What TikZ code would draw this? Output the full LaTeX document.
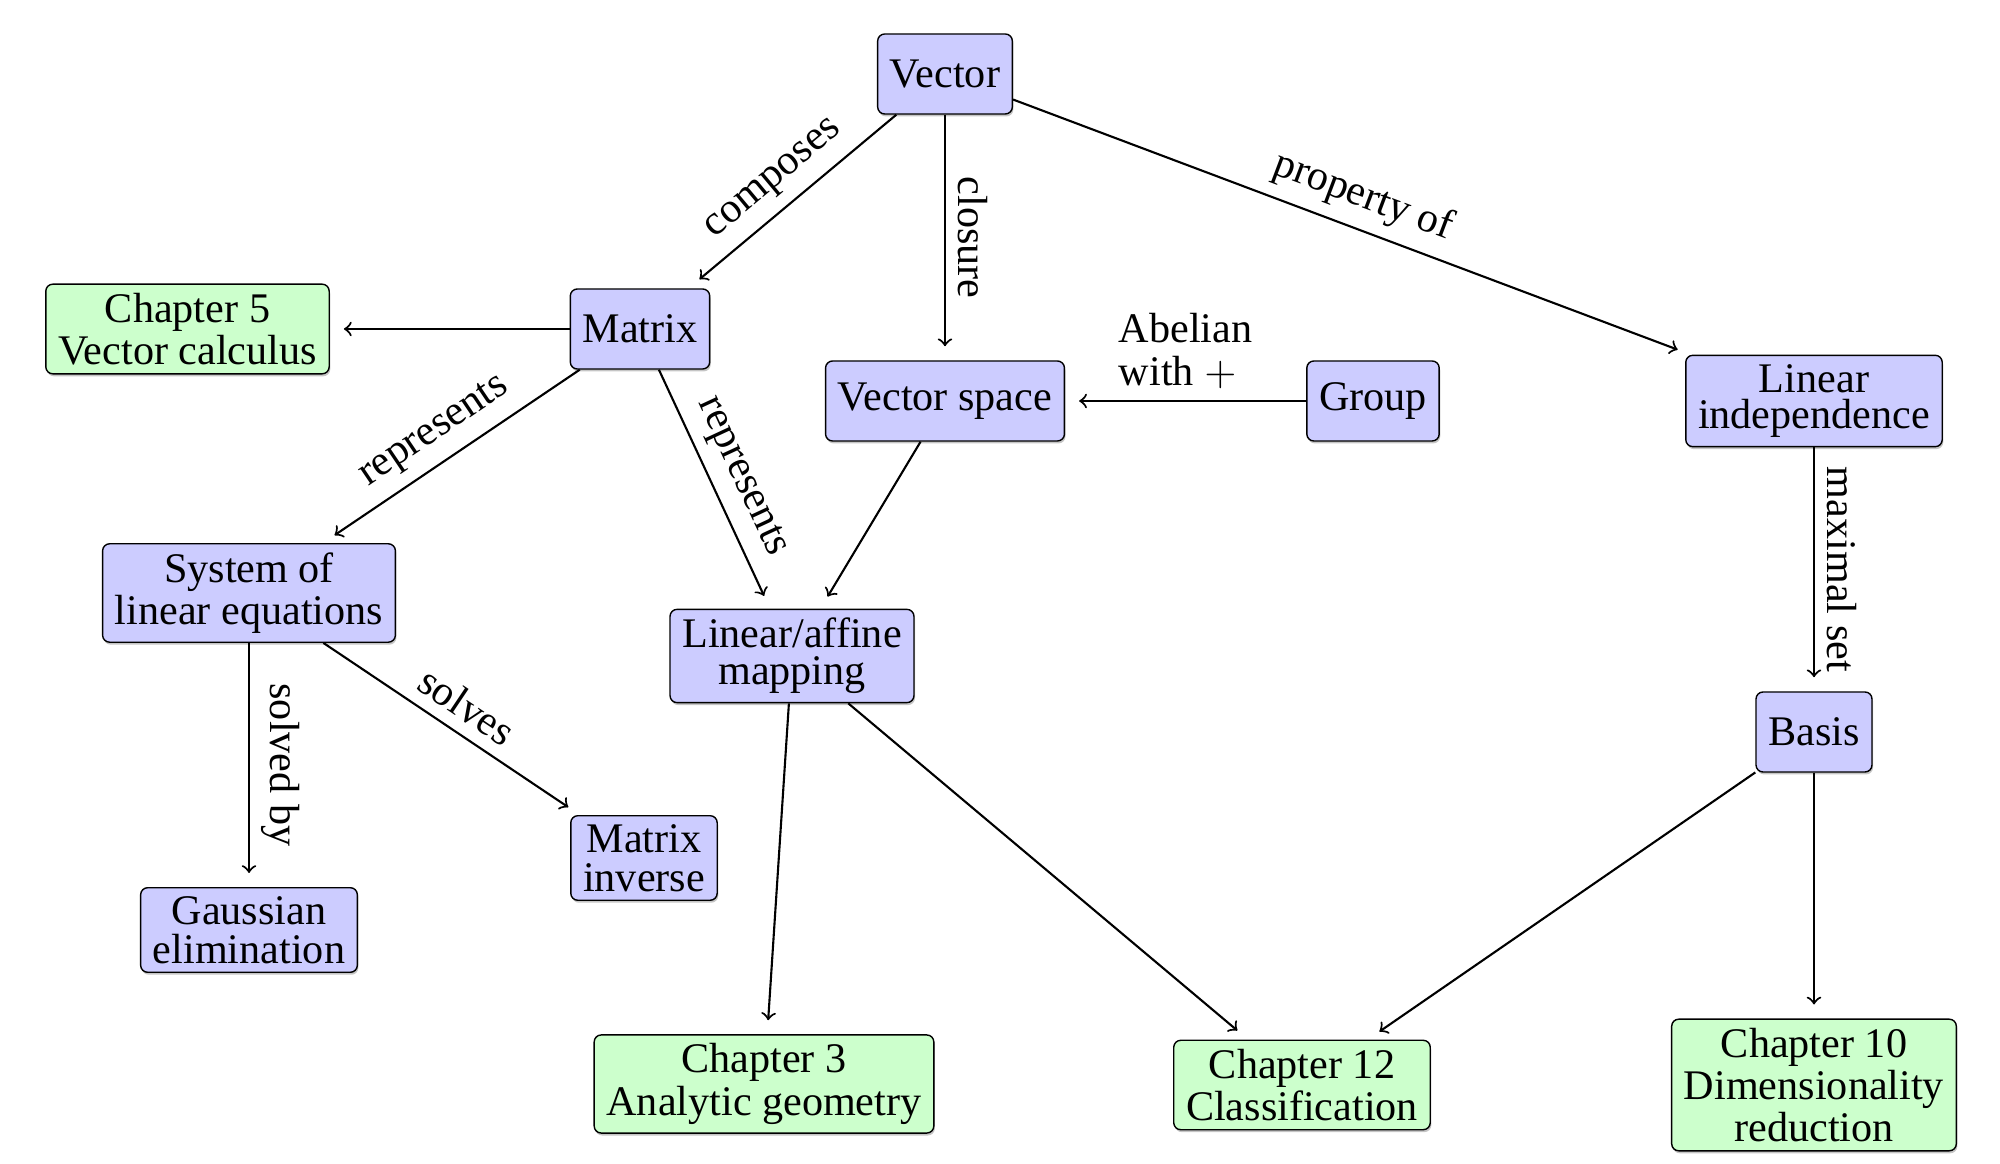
\documentclass[tikz,border=0pt]{standalone}
\usepackage{fontspec}
\setmainfont{Liberation Serif}
\usepackage{xcolor}
\usepackage{amsmath}
\usetikzlibrary{shadows}

\begin{document}
\begin{tikzpicture}[
    font=\fontsize{12}{12}\selectfont,
    box/.style={rectangle, draw, rounded corners=2pt, fill=blue!20, align=center, inner xsep=3.5pt, inner ysep=2.5pt, minimum height=0.8cm, drop shadow={shadow xshift=0.3pt, shadow yshift=-0.7pt, fill=black!45}},
    chap/.style={box, fill=green!20},
    link/.style={->, semithick, shorten >=4pt},
]
\useasboundingbox (0,0) rectangle (20,11.63);

\node[box] (vector) at (9.45,10.89) {Vector};
\node[box] (matrix) at (6.40,8.34) {Matrix};
\node[chap] (ch5) at (1.875,8.34) {Chapter 5\\Vector calculus};
\node[box] (vspace) at (9.45,7.62) {Vector space};
\node[box] (group) at (13.73,7.62) {Group};
\node[box, font=\fontsize{12}{10.5}\selectfont] (linind) at (18.14,7.62) {Linear\\independence};

\node[box] (system) at (2.49,5.70) {System of\\linear equations};
\node[box, font=\fontsize{12}{10.5}\selectfont] (mapping) at (7.92,5.07) {Linear/affine\\mapping};
\node[box] (basis) at (18.14,4.31) {Basis};

\node[box, font=\fontsize{12}{11}\selectfont] (gauss) at (2.49,2.33) {Gaussian\\elimination};
\node[box, font=\fontsize{12}{11}\selectfont] (inverse) at (6.44,3.05) {Matrix\\inverse};

\node[chap] (ch3) at (7.64,0.79) {Chapter 3\\Analytic geometry};
\node[chap] (ch12) at (13.02,0.78) {Chapter 12\\Classification};
\node[chap] (ch10) at (18.14,0.78) {Chapter 10\\Dimensionality\\reduction};

\draw[link] (vector) -- node[above, sloped] {composes} (matrix);
\draw[link] (vector) -- node[above, sloped] {closure} (vspace);
\draw[link] (vector) -- node[above, sloped] {property of} (linind);
\draw[link] (matrix) -- (ch5);
\draw[link] (matrix) -- node[above, sloped] {represents} (system);
\draw[link] (matrix) -- node[above, sloped] {represents} (mapping);
\draw[link] (group) -- node[above, align=left] {Abelian\\with $+$} (vspace);
\draw[link] (vspace) -- (mapping);
\draw[link] (linind) -- node[above, sloped] {maximal set} (basis);
\draw[link] (system) -- node[above, sloped] {solved by} (gauss);
\draw[link] (system) -- node[above, sloped] {solves} (inverse);
\draw[link] (mapping) -- (ch3);
\draw[link] (mapping) -- (ch12);
\draw[link] (basis) -- (ch12);
\draw[link] (basis) -- (ch10);

\end{tikzpicture}
\end{document}
